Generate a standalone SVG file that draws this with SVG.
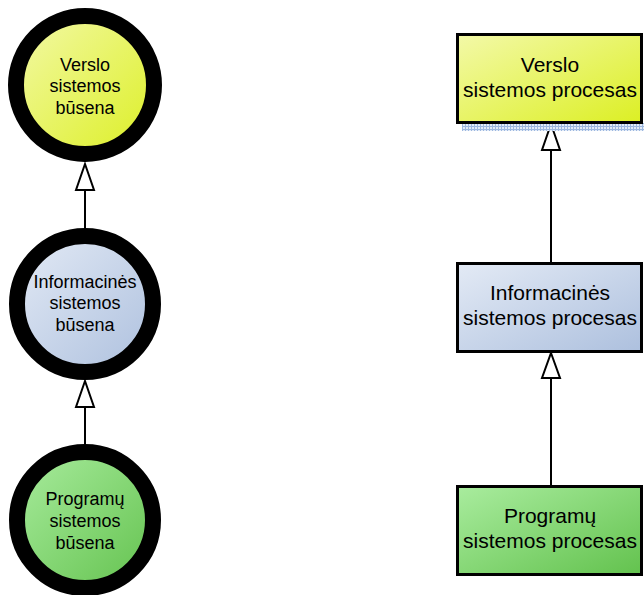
<svg xmlns="http://www.w3.org/2000/svg" width="644" height="595" viewBox="0 0 644 595">
  <defs>
    <linearGradient id="gYellow" x1="0" y1="0" x2="1" y2="1">
      <stop offset="0" stop-color="#f3f9a8"/>
      <stop offset="1" stop-color="#dcef24"/>
    </linearGradient>
    <linearGradient id="gBlue" x1="0" y1="0" x2="1" y2="1">
      <stop offset="0" stop-color="#e3eaf5"/>
      <stop offset="1" stop-color="#adc0de"/>
    </linearGradient>
    <linearGradient id="gGreen" x1="0" y1="0" x2="1" y2="1">
      <stop offset="0" stop-color="#a9ec9e"/>
      <stop offset="1" stop-color="#63c24e"/>
    </linearGradient>
    <pattern id="hatch" width="3" height="3" patternUnits="userSpaceOnUse">
      <rect width="3" height="3" fill="#e3ecf8"/>
      <path d="M0 0.5H3M0.5 0V3" stroke="#9db7df" stroke-width="1"/>
    </pattern>
  </defs>
  <style>
    .ring { stroke: #000000; stroke-width: 16; }
    .box { stroke: #000000; stroke-width: 3; }
    .lbl { font-family: "Liberation Sans", Arial, sans-serif; fill: #000000; text-anchor: middle; }
    .c { font-size: 18px; }
    .r { font-size: 21px; }
    .link { stroke: #000000; stroke-width: 2; fill: none; }
    .head { fill: #ffffff; stroke: #000000; stroke-width: 2; stroke-linejoin: miter; }
  </style>

  <!-- connectors: hollow arrowheads point to the upper level -->
  <g id="connectors">
    <path class="link" d="M85 230V190"/>
    <polygon class="head" points="85,164 94,190 76,190"/>
    <path class="link" d="M85 446V407"/>
    <polygon class="head" points="85,381 94,407 76,407"/>
    <path class="link" d="M551 262V150"/>
    <polygon class="head" points="551,124 560,150 542,150"/>
    <path class="link" d="M551 485V378"/>
    <polygon class="head" points="551,353 560,378 542,378"/>
  </g>

  <!-- state circles -->
  <g id="verslo-busena">
    <circle class="ring" cx="85" cy="85" r="69" fill="url(#gYellow)"/>
    <text class="lbl c" x="85" y="71">Verslo</text>
    <text class="lbl c" x="85" y="92">sistemos</text>
    <text class="lbl c" x="85" y="114">būsena</text>
  </g>
  <g id="informacines-busena">
    <circle class="ring" cx="85" cy="304" r="68" fill="url(#gBlue)"/>
    <text class="lbl c" x="85" y="288">Informacinės</text>
    <text class="lbl c" x="85" y="309">sistemos</text>
    <text class="lbl c" x="85" y="331">būsena</text>
  </g>
  <g id="programu-busena">
    <circle class="ring" cx="85" cy="520" r="68" fill="url(#gGreen)"/>
    <text class="lbl c" x="85" y="505">Programų</text>
    <text class="lbl c" x="85" y="527">sistemos</text>
    <text class="lbl c" x="85" y="549">būsena</text>
  </g>

  <!-- process boxes -->
  <g id="verslo-procesas">
    <rect x="462" y="123" width="182" height="8" fill="url(#hatch)"/>
    <rect class="box" x="457.5" y="34.5" width="184" height="88" fill="url(#gYellow)"/>
    <text class="lbl r" x="550" y="72">Verslo</text>
    <text class="lbl r" x="550" y="97">sistemos procesas</text>
  </g>
  <g id="informacines-procesas">
    <rect class="box" x="457.5" y="263.5" width="184" height="88" fill="url(#gBlue)"/>
    <text class="lbl r" x="550" y="300">Informacinės</text>
    <text class="lbl r" x="550" y="325">sistemos procesas</text>
  </g>
  <g id="programu-procesas">
    <rect class="box" x="457.5" y="486.5" width="184" height="88" fill="url(#gGreen)"/>
    <text class="lbl r" x="550" y="523">Programų</text>
    <text class="lbl r" x="550" y="548">sistemos procesas</text>
  </g>
</svg>
